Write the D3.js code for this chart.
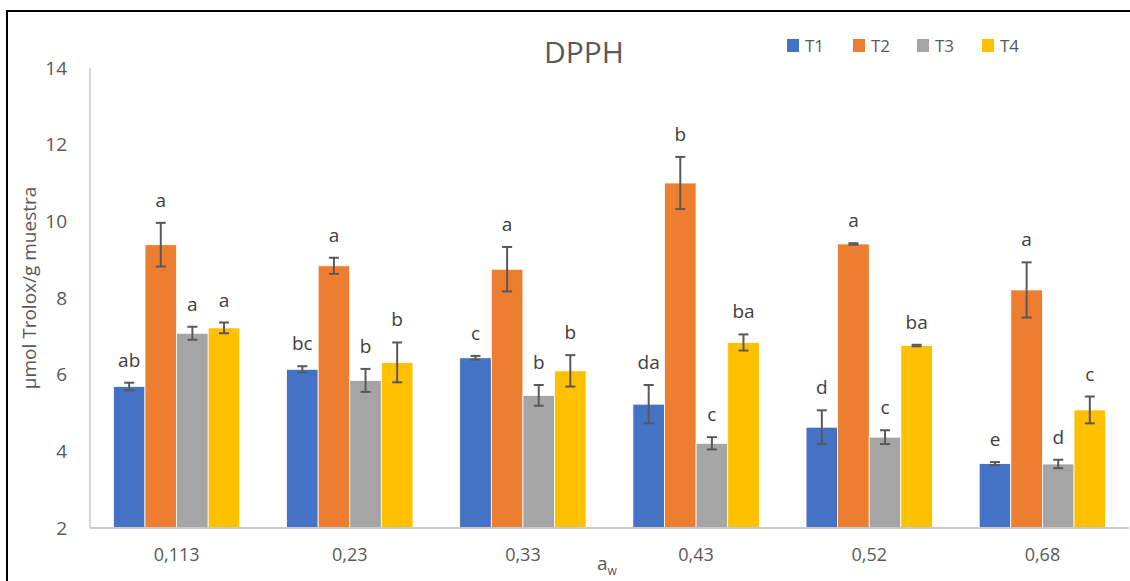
<!DOCTYPE html>
<html>
<head>
<meta charset="utf-8">
<script src="https://cdn.jsdelivr.net/npm/d3@7"></script>
<style>
  html, body { margin: 0; padding: 0; background: #fff; }
  svg { display: block; font-family: "Open Sans", sans-serif; }
</style>
</head>
<body>
<svg id="chart" width="1130" height="581"></svg>
<script>
const categories = ["0,113", "0,23", "0,33", "0,43", "0,52", "0,68"];
const seriesNames = ["T1", "T2", "T3", "T4"];
const colors = ["#4472C4", "#ED7D31", "#A5A5A5", "#FFC000"];
const yTicks = [2, 4, 6, 8, 10, 12, 14];

const T1 = [5.69, 6.14, 6.44, 5.23, 4.63, 3.68];
const T2 = [9.39, 8.84, 8.75, 11.0, 9.41, 8.21];
const T3 = [7.08, 5.85, 5.46, 4.21, 4.37, 3.67];
const T4 = [7.22, 6.32, 6.10, 6.84, 6.76, 5.08];

const T1err = [0.10, 0.08, 0.05, 0.50, 0.44, 0.04];
const T2err = [0.57, 0.21, 0.58, 0.68, 0.02, 0.72];
const T3err = [0.17, 0.30, 0.27, 0.16, 0.18, 0.11];
const T4err = [0.14, 0.52, 0.41, 0.21, 0.02, 0.35];

const T1lab = ["ab", "bc", "c", "da", "d", "e"];
const T2lab = ["a", "a", "a", "b", "a", "a"];
const T3lab = ["a", "b", "b", "c", "c", "d"];
const T4lab = ["a", "b", "b", "ba", "ba", "c"];

const values = [T1, T2, T3, T4];
const errs = [T1err, T2err, T3err, T4err];
const labs = [T1lab, T2lab, T3lab, T4lab];

const svg = d3.select("#chart");

// outer frame
svg.append("rect").attr("x", 7).attr("y", 11).attr("width", 1140).attr("height", 600)
  .attr("fill", "none").attr("stroke", "#000").attr("stroke-width", 2);

const plotL = 90, plotR = 1129, plotT = 68, plotB = 528;

const x0 = d3.scaleBand().domain(categories).range([plotL, plotR])
  .paddingInner(0.27).paddingOuter(0.135);
const x1 = d3.scaleBand().domain(seriesNames).range([0, x0.bandwidth()]);
const y = d3.scaleLinear().domain([2, 14]).range([plotB, plotT]);

// y tick labels
const yAxis = d3.axisLeft(y).tickValues(yTicks).tickSize(0).tickPadding(12);
const gy = svg.append("g").attr("transform", `translate(${plotL - 11},0)`).call(yAxis);
gy.select(".domain").remove();
gy.selectAll("text").attr("font-size", 19).attr("fill", "#595959")
  .attr("font-family", "'Open Sans', sans-serif");

// bars
const data = [];
categories.forEach((c, i) => {
  seriesNames.forEach((s, j) => {
    data.push({ c, s, j, v: values[j][i], e: errs[j][i], l: labs[j][i] });
  });
});

const g = svg.append("g");
g.selectAll("rect.bar").data(data).enter().append("rect")
  .attr("class", "bar")
  .attr("x", d => x0(d.c) + x1(d.s))
  .attr("y", d => y(d.v))
  .attr("width", x1.bandwidth())
  .attr("height", d => y(2) - y(d.v))
  .attr("fill", d => colors[d.j])
  .attr("stroke", "#fff").attr("stroke-width", 0.8);

// axis lines
svg.append("line").attr("x1", plotL).attr("x2", plotL).attr("y1", plotT).attr("y2", plotB)
  .attr("stroke", "#c9c9c9").attr("stroke-width", 1.5);
svg.append("line").attr("x1", plotL).attr("x2", plotR).attr("y1", plotB).attr("y2", plotB)
  .attr("stroke", "#c9c9c9").attr("stroke-width", 2);

// error bars
const cap = 5;
const eb = g.selectAll("g.err").data(data).enter().append("g").attr("class", "err");
const cx = d => x0(d.c) + x1(d.s) + x1.bandwidth() / 2;
eb.append("line")
  .attr("x1", cx).attr("x2", cx)
  .attr("y1", d => y(d.v + d.e)).attr("y2", d => y(d.v - d.e))
  .attr("stroke", "#595959").attr("stroke-width", 2);
eb.append("line")
  .attr("x1", d => cx(d) - cap).attr("x2", d => cx(d) + cap)
  .attr("y1", d => y(d.v + d.e)).attr("y2", d => y(d.v + d.e))
  .attr("stroke", "#595959").attr("stroke-width", 2);
eb.append("line")
  .attr("x1", d => cx(d) - cap).attr("x2", d => cx(d) + cap)
  .attr("y1", d => y(d.v - d.e)).attr("y2", d => y(d.v - d.e))
  .attr("stroke", "#595959").attr("stroke-width", 2);

// letters
g.selectAll("text.lab").data(data).enter().append("text")
  .attr("class", "lab")
  .attr("x", cx)
  .attr("y", d => y(d.v + d.e) - 16)
  .attr("text-anchor", "middle")
  .attr("font-size", 19).attr("fill", "#404040")
  .text(d => d.l);

// x tick labels
const xAxis = d3.axisBottom(x0).tickSize(0).tickPadding(0);
const gx = svg.append("g").attr("transform", `translate(0,${plotB + 20})`).call(xAxis);
gx.select(".domain").remove();
gx.selectAll("text").attr("font-size", 18).attr("fill", "#595959")
  .attr("font-family", "'Open Sans', sans-serif").attr("dy", "0.71em");

// x axis title a_w
const xt = svg.append("text").attr("x", 597).attr("y", 570)
  .attr("font-size", 19).attr("fill", "#595959");
xt.append("tspan").text("a");
xt.append("tspan").attr("dy", 5).attr("font-size", 12).text("w");

// y axis title
svg.append("text")
  .attr("transform", "translate(36,288) rotate(-90)")
  .attr("text-anchor", "middle")
  .attr("font-size", 19).attr("fill", "#595959")
  .text("µmol Trolox/g muestra");

// title
svg.append("text").attr("x", 584).attr("y", 63).attr("text-anchor", "middle")
  .attr("font-size", 30).attr("fill", "#595959").text("DPPH");

// legend
const legX = [787, 853, 917, 982];
const leg = svg.append("g").selectAll("g").data(seriesNames).enter().append("g")
  .attr("transform", (d, i) => `translate(${legX[i]},39)`);
leg.append("rect").attr("width", 12).attr("height", 13).attr("fill", (d, i) => colors[i]);
leg.append("text").attr("x", 18).attr("y", 12.5).attr("font-size", 17)
  .attr("fill", "#595959").text(d => d);
</script>
</body>
</html>
